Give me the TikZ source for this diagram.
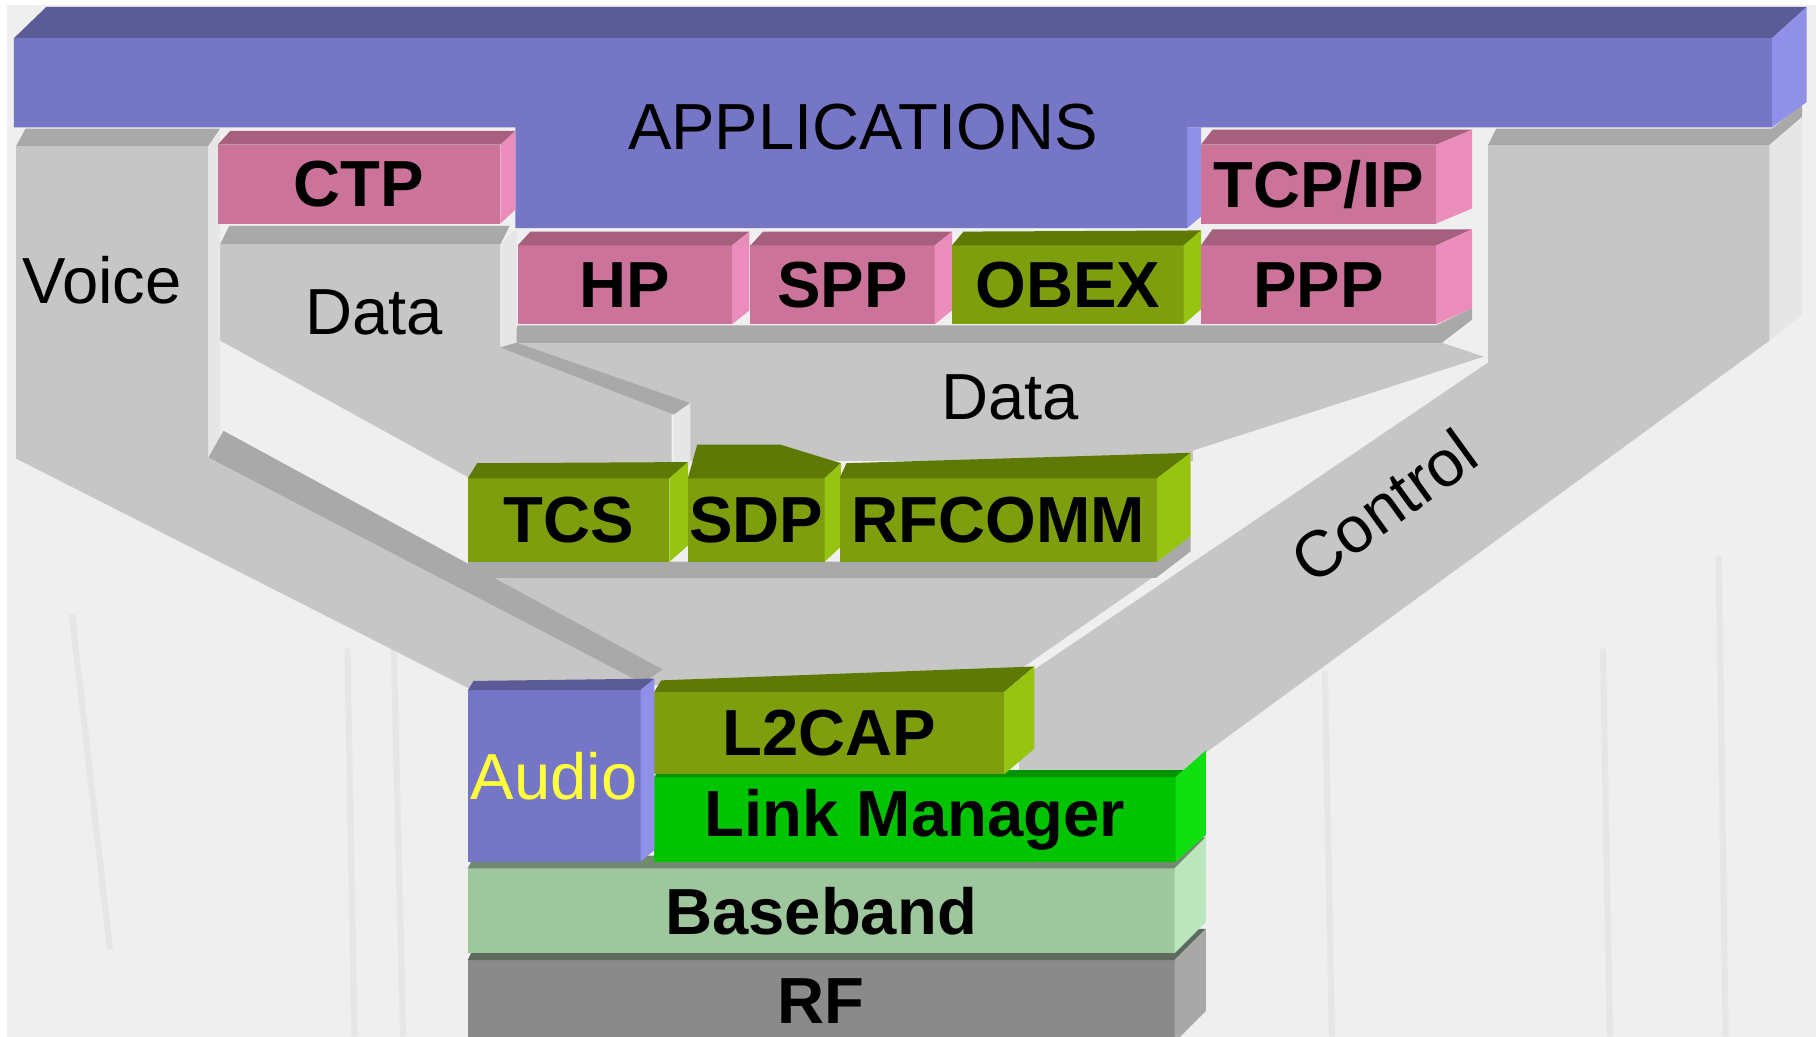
\documentclass[tikz,border=0pt]{standalone}
\usepackage{fontspec}
\setmainfont{Liberation Sans}

\definecolor{bg}{HTML}{EFEFEF}
\definecolor{bgline}{HTML}{E6E6E6}
\definecolor{chanF}{HTML}{C6C6C6}
\definecolor{chanT}{HTML}{A9A9A9}
\definecolor{chanS}{HTML}{E6E6E6}
\definecolor{appF}{HTML}{7676C6}
\definecolor{appT}{HTML}{5B5B98}
\definecolor{appS}{HTML}{9090E8}
\definecolor{roseF}{HTML}{CC7399}
\definecolor{roseT}{HTML}{A6607E}
\definecolor{roseS}{HTML}{EA8DBB}
\definecolor{oliveF}{HTML}{7E9E0E}
\definecolor{oliveT}{HTML}{5E7A04}
\definecolor{oliveS}{HTML}{96C410}
\definecolor{limeF}{HTML}{00C400}
\definecolor{limeT}{HTML}{009400}
\definecolor{limeS}{HTML}{10E010}
\definecolor{mintF}{HTML}{9EC79E}
\definecolor{mintT}{HTML}{6F8A6F}
\definecolor{mintS}{HTML}{BCE6BC}
\definecolor{rfF}{HTML}{8A8A8A}
\definecolor{rfT}{HTML}{5E6A5E}
\definecolor{rfS}{HTML}{A8A8A8}
\definecolor{audioText}{HTML}{FFFF3C}

\tikzset{
  txt/.style={font=\fontsize{16}{19}\selectfont, inner sep=0pt},
  layer/.style={txt, font=\fontsize{16}{19}\selectfont\bfseries, outer sep=0pt},
  bgline/.style={draw=bgline, line width=1.5pt},
}

% top and right faces of a slab: node, colour, depth at left, depth at right
\newcommand{\topface}[6]{\fill[#2T] (#1.north west) -- ++(#3,-#4) -- ([shift={(#5,-#6)}]#1.north east) -- (#1.north east) -- cycle;}
\newcommand{\sideface}[4]{\fill[#2S] (#1.north east) -- ++(#3,-#4) -- ([shift={(#3,-#4)}]#1.south east) -- (#1.south east) -- cycle;}

\begin{document}
\begin{tikzpicture}[x=0.01cm, y=-0.01cm]
\useasboundingbox (0,0) rectangle (1568,895);
\fill[white] (0,0) rectangle (1568,895);
\fill[bg] (6,4) rectangle (1568,895);
% faint drawing behind
\draw[bgline] (62,530) -- (95,820);
\draw[bgline] (300,560) -- (306,895);
\draw[bgline] (340,560) -- (348,895);
\draw[bgline] (1144,580) -- (1150,895);
\draw[bgline] (1384,560) -- (1390,895);
\draw[bgline] (1484,480) -- (1490,895);

% control channel
\fill[chanF] (1285,125) -- (1528,125) -- (1528,294) -- (1041,650) -- (1041,668) -- (880,668) -- (880,587) -- (1285,313) -- cycle;
\fill[chanT] (1285,125) -- (1292,111) -- (1530,111) -- (1556,90) -- (1556,101) -- (1528,125) -- cycle;
\fill[chanS] (1528,125) -- (1556,101) -- (1556,272) -- (1528,294) -- cycle;
% channel down to L2CAP
\fill[chanF] (404,499) -- (998,499) -- (1028,476) -- (872,584) -- (560,592) -- (404,520) -- cycle;
\fill[chanT] (404,485) -- (998,485) -- (1028,463) -- (1028,476) -- (998,499) -- (404,499) -- cycle;
% data channels
\fill[chanF] (440,296) -- (1245,296) -- (1281,308) -- (1030,389) -- (1030,398) -- (594,398) -- (594,352) -- (440,305) -- cycle;
\fill[chanT] (440,296) -- (447,281) -- (1240,281) -- (1271,266) -- (1271,276) -- (1245,296) -- cycle;
\fill[chanF] (190,211) -- (432,211) -- (432,300) -- (580,352) -- (580,412) -- (404,412) -- (190,294) -- cycle;
\fill[chanT] (190,211) -- (198,195) -- (440,195) -- (432,211) -- cycle;
\fill[chanS] (432,211) -- (446,197) -- (446,296) -- (432,300) -- cycle;
\fill[chanT] (432,300) -- (446,296) -- (596,348) -- (582,358) -- cycle;
\fill[chanS] (582,358) -- (596,348) -- (596,400) -- (582,410) -- cycle;
% voice channel
\fill[chanF] (14,126) -- (180,126) -- (180,395) -- (555,588) -- (555,594) -- (404,594) -- (14,396) -- cycle;
\fill[chanT] (14,126) -- (22,111) -- (190,111) -- (180,126) -- cycle;
\fill[chanS] (180,126) -- (190,114) -- (190,378) -- (180,395) -- cycle;
\fill[chanT] (180,395) -- (193,372) -- (572,578) -- (555,590) -- cycle;

% applications
\fill[appT] (12,33) -- (40,6) -- (1560,6) -- (1530,33) -- cycle;
\fill[appS] (1530,33) -- (1560,6) -- (1560,88) -- (1530,110) -- cycle;
\fill[appS] (1025,110) -- (1037,110) -- (1037,187) -- (1025,197) -- cycle;
\fill[appF] (12,33) -- (1530,33) -- (1530,110) -- (1025,110) -- (1025,197) -- (445,197) -- (445,110) -- (12,110) -- cycle;
\node[txt] (apps) at (745,110) {APPLICATIONS};

% upper protocols
\node[layer, fill=roseF, minimum width=2.44cm, minimum height=0.68cm] (ctp) at (310,159) {CTP};
\topface{ctp}{rose}{11}{12}{13}{12}
\sideface{ctp}{rose}{13}{12}
\node[layer, fill=roseF, minimum width=2.03cm, minimum height=0.68cm] (tcpip) at (1138.5,159) {TCP/IP};
\topface{tcpip}{rose}{10}{13}{31}{13}
\sideface{tcpip}{rose}{31}{13}
\node[layer, fill=roseF, minimum width=1.85cm, minimum height=0.68cm] (hp) at (539.5,246) {HP};
\topface{hp}{rose}{11}{12}{15}{12}
\sideface{hp}{rose}{15}{12}
\node[layer, fill=roseF, minimum width=1.59cm, minimum height=0.68cm] (spp) at (727.5,246) {SPP};
\topface{spp}{rose}{11}{12}{15}{12}
\sideface{spp}{rose}{15}{12}
\node[layer, fill=oliveF, minimum width=2.00cm, minimum height=0.68cm] (obex) at (922,246) {OBEX};
\topface{obex}{olive}{10}{12}{15}{13}
\sideface{obex}{olive}{15}{13}
\node[layer, fill=roseF, minimum width=2.03cm, minimum height=0.68cm] (ppp) at (1138.5,246) {PPP};
\topface{ppp}{rose}{10}{14}{31}{14}
\sideface{ppp}{rose}{31}{14}

% middle protocols
\node[layer, fill=oliveF, minimum width=1.74cm, minimum height=0.72cm] (tcs) at (491,449) {TCS};
\topface{tcs}{olive}{8}{13}{16}{14}
\sideface{tcs}{olive}{16}{14}
\node[layer, fill=oliveF, minimum width=1.18cm, minimum height=0.72cm] (sdp) at (653,449) {SDP};
\fill[oliveT] (sdp.north west) -- ++(8,-29) -- ++(72,0) -- ([shift={(14,-13)}]sdp.north east) -- (sdp.north east) -- cycle;
\sideface{sdp}{olive}{14}{13}
\node[layer, fill=oliveF, minimum width=2.74cm, minimum height=0.72cm] (rfcomm) at (862,449) {RFCOMM};
\topface{rfcomm}{olive}{6}{13}{29}{22}
\sideface{rfcomm}{olive}{29}{22}

% core stack
\node[layer, fill=rfF, minimum width=6.10cm, minimum height=0.71cm] (rf) at (709,864.5) {RF};
\topface{rf}{rf}{3}{6}{27}{27}
\sideface{rf}{rf}{27}{27}
\node[layer, fill=mintF, minimum width=6.10cm, minimum height=0.73cm] (baseband) at (709,786.5) {Baseband};
\topface{baseband}{mint}{3}{6}{27}{27}
\sideface{baseband}{mint}{27}{27}
\node[layer, fill=limeF, minimum width=4.50cm, minimum height=0.73cm] (lm) at (790,707.5) {Link Manager};
\topface{lm}{lime}{4}{6}{8}{6}
\sideface{lm}{lime}{26}{23}
\node[layer, fill=oliveF, minimum width=3.02cm, minimum height=0.71cm] (l2cap) at (716,633) {L2CAP};
\topface{l2cap}{olive}{6}{10}{26}{22}
\sideface{l2cap}{olive}{26}{22}
\node[layer, font=\fontsize{16}{19}\selectfont, text=audioText, fill=appF, minimum width=1.49cm, minimum height=1.48cm] (audio) at (478.5,670) {Audio};
\topface{audio}{app}{5}{8}{12}{10}
\sideface{audio}{app}{12}{10}

% channel labels
\node[txt] (voice) at (88,242) {Voice};
\node[txt] (dataL) at (323,270) {Data};
\node[txt] (dataC) at (872,343) {Data};
\node[txt, rotate=36] (control) at (1195,437) {Control};
\end{tikzpicture}
\end{document}
